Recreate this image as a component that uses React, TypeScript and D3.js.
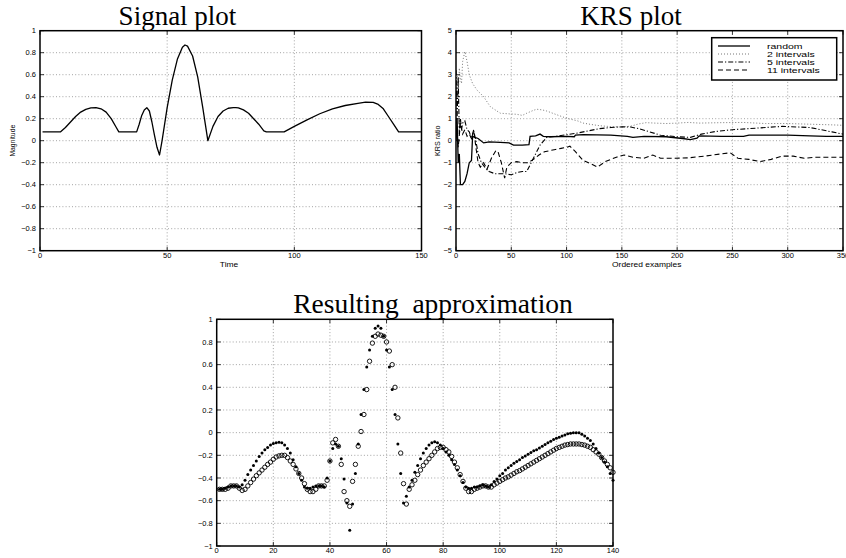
import React from 'react';
import * as d3 from 'd3';

// ---------------- Signal plot data ----------------
const signalT = [1, 8, 10, 12, 14, 16, 18, 20, 22, 24, 26, 28, 30, 31, 38, 39, 40, 41, 42, 43, 44, 45, 46, 47, 48, 50, 52, 54, 56, 57, 58, 60, 62, 64, 65, 66, 68, 70, 72, 74, 76, 77, 78, 80, 82, 84, 86, 88, 89, 96, 100, 105, 110, 115, 120, 125, 128, 131, 133, 135, 137, 139, 141, 150];
const signalV = [0.08, 0.08, 0.12, 0.17, 0.22, 0.26, 0.285, 0.298, 0.3, 0.29, 0.26, 0.2, 0.12, 0.08, 0.08, 0.15, 0.23, 0.28, 0.3, 0.27, 0.17, 0.05, -0.06, -0.13, 0.0, 0.3, 0.55, 0.74, 0.85, 0.87, 0.86, 0.77, 0.58, 0.3, 0.15, 0.0, 0.13, 0.22, 0.27, 0.295, 0.3, 0.3, 0.298, 0.28, 0.25, 0.2, 0.15, 0.09, 0.08, 0.08, 0.13, 0.19, 0.245, 0.29, 0.32, 0.34, 0.35, 0.348, 0.33, 0.29, 0.22, 0.15, 0.08, 0.08];

// ---------------- KRS plot data ----------------
const krsRandomX = [0, 1, 2, 3, 4, 6, 8, 10, 12, 14, 15, 17, 20, 25, 30, 40, 48, 52, 60, 66, 67, 72, 76, 79, 85, 100, 107, 108, 115, 140, 155, 160, 170, 190, 205, 212, 218, 220, 240, 260, 265, 300, 320, 335, 350];
const krsRandomY = [0, 1.0, -1.0, -0.6, -2.0, -2.0, -1.85, -1.5, -1.0, -0.9, 0.2, 0.15, 0.1, -0.1, -0.05, -0.08, -0.1, -0.2, -0.2, -0.18, 0.2, 0.22, 0.3, 0.2, 0.18, 0.2, 0.18, 0.25, 0.28, 0.25, 0.2, 0.15, 0.2, 0.18, 0.1, 0.05, 0.12, 0.22, 0.2, 0.2, 0.25, 0.25, 0.22, 0.2, 0.2];

const krs2X = [0, 1, 2, 3, 4, 5, 6, 8, 10, 12, 15, 19, 25, 31, 40, 48, 55, 60, 64, 70, 73, 78, 82, 90, 100, 110, 115, 122, 130, 140, 150, 158, 165, 172, 180, 190, 200, 210, 220, 240, 260, 280, 300, 320, 340, 350];
const krs2Y = [2.5, 3.0, 2.0, 3.3, 2.8, 2.6, 3.6, 4.05, 3.6, 3.0, 2.6, 2.3, 2.0, 1.55, 1.25, 1.22, 1.2, 1.15, 1.25, 1.38, 1.43, 1.4, 1.35, 1.2, 1.02, 0.9, 0.8, 0.74, 0.68, 0.64, 0.62, 0.66, 0.76, 0.82, 0.8, 0.78, 0.8, 0.83, 0.8, 0.82, 0.83, 0.78, 0.78, 0.75, 0.72, 0.7];

const krs5X = [0, 1, 2, 3, 4, 5, 6, 8, 10, 12, 14, 16, 18, 20, 23, 26, 30, 35, 40, 44, 50, 55, 60, 64, 70, 76, 82, 90, 100, 110, 120, 130, 140, 150, 158, 165, 172, 185, 200, 212, 222, 235, 250, 265, 280, 295, 310, 320, 330, 340, 350];
const krs5Y = [3.2, 1.0, 2.9, 0.3, 1.0, 0.5, 0.8, 0.9, 0.5, 0.4, 0.1, 0.45, 0.0, -0.6, -1.0, -1.2, -1.4, -1.5, -1.5, -1.5, -1.55, -1.45, -1.4, -1.4, -0.8, -0.2, 0.15, 0.2, 0.27, 0.35, 0.45, 0.55, 0.6, 0.63, 0.62, 0.55, 0.45, 0.25, 0.18, 0.15, 0.3, 0.42, 0.5, 0.55, 0.6, 0.65, 0.62, 0.6, 0.5, 0.4, 0.3];

const krs11X = [0, 2, 4, 6, 8, 10, 12, 14, 16, 18, 20, 22, 25, 28, 32, 36, 38, 41, 44, 46, 50, 55, 60, 65, 70, 75, 80, 85, 90, 95, 100, 103, 108, 115, 122, 128, 135, 145, 152, 160, 170, 178, 185, 195, 210, 225, 240, 248, 255, 265, 275, 285, 295, 305, 315, 325, 335, 350];
const krs11Y = [1.0, -0.3, 0.8, 0.3, 0.5, 0.2, 0.3, 0.1, 0.5, -0.3, -1.0, -1.2, -1.0, -1.3, -0.8, -0.45, -0.5, -1.0, -1.7, -1.2, -1.0, -0.95, -1.0, -1.0, -0.85, -0.65, -0.5, -0.45, -0.4, -0.35, -0.3, -0.25, -0.5, -0.9, -1.05, -1.2, -0.95, -0.75, -0.65, -0.75, -0.8, -0.65, -0.8, -0.8, -0.78, -0.7, -0.6, -0.55, -0.8, -0.85, -0.95, -0.85, -0.7, -0.7, -0.8, -0.75, -0.75, -0.75];

const legendLabels = ['random', '2 intervals', '5 intervals', '11 intervals'];

// ---------------- Resulting approximation data (x = 1..140) ----------------
const approxFilled = [
  -0.50, -0.50, -0.49, -0.48, -0.47, -0.47, -0.47, -0.48, -0.46, -0.42,
  -0.37, -0.33, -0.29, -0.25, -0.21, -0.18, -0.15, -0.13, -0.11, -0.095,
  -0.09, -0.085, -0.09, -0.11, -0.14, -0.18, -0.24, -0.30, -0.36, -0.42,
  -0.48, -0.49, -0.49, -0.48, -0.47, -0.47, -0.47, -0.48, -0.40, -0.25,
  -0.14, -0.10, -0.12, -0.23, -0.41, -0.62, -0.86, -0.63, -0.36, -0.10,
  0.16, 0.38, 0.58, 0.73, 0.85, 0.92, 0.94, 0.92, 0.85, 0.73,
  0.58, 0.38, 0.16, -0.10, -0.36, -0.62, -0.56, -0.48, -0.42, -0.35,
  -0.29, -0.23, -0.18, -0.14, -0.11, -0.09, -0.08, -0.09, -0.11, -0.14,
  -0.17, -0.20, -0.24, -0.28, -0.33, -0.38, -0.44, -0.48, -0.49, -0.49,
  -0.48, -0.48, -0.47, -0.46, -0.47, -0.48, -0.46, -0.43, -0.41, -0.38,
  -0.36, -0.33, -0.31, -0.29, -0.27, -0.255, -0.24, -0.22, -0.205, -0.19,
  -0.175, -0.16, -0.15, -0.135, -0.12, -0.105, -0.09, -0.075, -0.06, -0.05,
  -0.04, -0.03, -0.02, -0.01, -0.005, 0.0, 0.0, 0.0, -0.015, -0.03,
  -0.05, -0.07, -0.10, -0.14, -0.18, -0.22, -0.26, -0.30, -0.36, -0.42,
];
const approxCircles = [
  -0.50, -0.50, -0.50, -0.49, -0.47, -0.47, -0.47, -0.49, -0.51, -0.50,
  -0.47, -0.44, -0.41, -0.38, -0.355, -0.33, -0.305, -0.28, -0.26, -0.235,
  -0.215, -0.205, -0.20, -0.20, -0.22, -0.25, -0.28, -0.32, -0.36, -0.40,
  -0.45, -0.50, -0.52, -0.52, -0.50, -0.47, -0.47, -0.47, -0.42, -0.25,
  -0.09, -0.06, -0.12, -0.28, -0.52, -0.60, -0.65, -0.43, -0.28, -0.12,
  0.01, 0.16, 0.38, 0.63, 0.79, 0.85, 0.87, 0.86, 0.85, 0.80,
  0.72, 0.60, 0.40, 0.13, -0.18, -0.45, -0.63, -0.50, -0.46, -0.42,
  -0.37, -0.33, -0.29, -0.26, -0.23, -0.20, -0.17, -0.14, -0.13, -0.13,
  -0.15, -0.17, -0.21, -0.26, -0.31, -0.37, -0.43, -0.49, -0.52, -0.52,
  -0.50, -0.49, -0.48, -0.47, -0.47, -0.48, -0.48, -0.46, -0.445, -0.43,
  -0.415, -0.40, -0.39, -0.375, -0.36, -0.345, -0.335, -0.32, -0.305, -0.29,
  -0.275, -0.26, -0.245, -0.23, -0.215, -0.20, -0.185, -0.17, -0.155, -0.14,
  -0.13, -0.12, -0.11, -0.105, -0.10, -0.10, -0.10, -0.10, -0.105, -0.11,
  -0.12, -0.13, -0.15, -0.17, -0.19, -0.22, -0.25, -0.28, -0.31, -0.35,
];
const approxX = d3.range(1, approxFilled.length + 1);

// ---------------- ticks ----------------
const signalXTicks = [0, 50, 100, 150];
const unitYTicks = [-1, -0.8, -0.6, -0.4, -0.2, 0, 0.2, 0.4, 0.6, 0.8, 1];
const krsXTicks = [0, 50, 100, 150, 200, 250, 300, 350];
const krsYTicks = [-5, -4, -3, -2, -1, 0, 1, 2, 3, 4, 5];
const approxXTicks = [0, 20, 40, 60, 80, 100, 120, 140];

const SANS = 'Liberation Sans, Arial, Helvetica, sans-serif';
const SERIF = 'Liberation Serif, Times New Roman, serif';
const fmt = d3.format('~g');

type Scale = d3.ScaleLinear<number, number>;

function Axes({ x, y, xTicks, yTicks }: { x: Scale; y: Scale; xTicks: number[]; yTicks: number[] }) {
  const [l, r] = x.range();
  const [b, t] = y.range();
  const tl = 4;
  return (
    <g>
      {xTicks.filter((v) => x(v) > l + 0.5 && x(v) < r - 0.5).map((v) => (
        <line key={'gx' + v} x1={x(v)} x2={x(v)} y1={t} y2={b} stroke="#8c8c8c" strokeWidth={0.8} strokeDasharray="1,2.2" />
      ))}
      {yTicks.filter((v) => y(v) < b - 0.5 && y(v) > t + 0.5).map((v) => (
        <line key={'gy' + v} x1={l} x2={r} y1={y(v)} y2={y(v)} stroke="#8c8c8c" strokeWidth={0.8} strokeDasharray="1,2.2" />
      ))}
      {xTicks.map((v) => (
        <g key={'tx' + v}>
          <line x1={x(v)} x2={x(v)} y1={b} y2={b - tl} stroke="#000" strokeWidth={0.8} />
          <line x1={x(v)} x2={x(v)} y1={t} y2={t + tl} stroke="#000" strokeWidth={0.8} />
          <text x={x(v)} y={b + 7.2} textAnchor="middle" fontSize={7.5} fontFamily={SANS} fill="#000">{fmt(v)}</text>
        </g>
      ))}
      {yTicks.map((v) => (
        <g key={'ty' + v}>
          <line x1={l} x2={l + tl} y1={y(v)} y2={y(v)} stroke="#000" strokeWidth={0.8} />
          <line x1={r} x2={r - tl} y1={y(v)} y2={y(v)} stroke="#000" strokeWidth={0.8} />
          <text x={l - 4} y={y(v)} dy="0.35em" textAnchor="end" fontSize={7.5} fontFamily={SANS} fill="#000">{fmt(v)}</text>
        </g>
      ))}
      <rect x={l} y={t} width={r - l} height={b - t} fill="none" stroke="#000" strokeWidth={1.5} />
    </g>
  );
}

function WideText({ x, y, children, size, sx, rotate }: { x: number; y: number; children: string; size: number; sx: number; rotate?: boolean }) {
  const tr = rotate ? `translate(${x},${y}) rotate(-90) scale(${sx},1)` : `translate(${x},${y}) scale(${sx},1)`;
  return (
    <text transform={tr} textAnchor="middle" fontSize={size} fontFamily={SANS} fill="#000">{children}</text>
  );
}

export default function App() {
  // Signal plot
  const sx = d3.scaleLinear().domain([0, 150]).range([40, 421.5]);
  const sy = d3.scaleLinear().domain([-1, 1]).range([250.7, 30.7]);
  const signalLine = d3.line<number>().x((_, i) => sx(signalT[i])).y((d) => sy(d));

  // KRS plot
  const kx = d3.scaleLinear().domain([0, 350]).range([456, 843]);
  const ky = d3.scaleLinear().domain([-5, 5]).range([250.7, 30.7]);
  const kLine = (xs: number[]) => d3.line<number>().x((_, i) => kx(xs[i])).y((d) => ky(d));

  // Approximation plot
  const ax = d3.scaleLinear().domain([0, 140]).range([216.7, 613]);
  const ay = d3.scaleLinear().domain([-1, 1]).range([546, 319.3]);

  const series = [
    { xs: krsRandomX, ys: krsRandomY, stroke: '#000', dash: undefined as string | undefined, w: 1.3 },
    { xs: krs2X, ys: krs2Y, stroke: '#777', dash: '1,2', w: 1 },
    { xs: krs5X, ys: krs5Y, stroke: '#000', dash: '5,2,1.2,2', w: 1.1 },
    { xs: krs11X, ys: krs11Y, stroke: '#000', dash: '5,3', w: 1.1 },
  ];

  const legX = 711.7, legY = 37.7, legW = 125, legH = 42.3;
  const rowY = [46, 54, 62, 70];

  return (
    <svg width={846} height={558} style={{ position: 'absolute', left: 0, top: 0, background: '#fff' }}>
      <rect x={0} y={0} width={846} height={558} fill="#fff" />
      <defs>
        <clipPath id="krsClip">
          <rect x={456} y={30.7} width={387} height={220} />
        </clipPath>
      </defs>

      {/* Signal plot */}
      <text x={177.5} y={25} textAnchor="middle" fontSize={27} fontFamily={SERIF} fill="#000">Signal plot</text>
      <Axes x={sx} y={sy} xTicks={signalXTicks} yTicks={unitYTicks} />
      <path d={signalLine(signalV) || ''} fill="none" stroke="#000" strokeWidth={1.3} strokeLinejoin="round" />
      <WideText x={229} y={266.5} size={6.5} sx={1.3}>Time</WideText>
      <WideText x={15} y={140.7} size={6.5} sx={1.05} rotate>Magnitude</WideText>

      {/* KRS plot */}
      <text x={631} y={25} textAnchor="middle" fontSize={27} fontFamily={SERIF} fill="#000">KRS plot</text>
      <Axes x={kx} y={ky} xTicks={krsXTicks} yTicks={krsYTicks} />
      <g clipPath="url(#krsClip)">
        {series.map((s, i) => (
          <path key={i} d={kLine(s.xs)(s.ys) || ''} fill="none" stroke={s.stroke} strokeWidth={s.w} strokeDasharray={s.dash} />
        ))}
      </g>
      <WideText x={646.7} y={266.5} size={6.5} sx={1.3}>Ordered examples</WideText>
      <WideText x={440} y={140.7} size={6.5} sx={1.1} rotate>KRS ratio</WideText>
      <rect x={legX} y={legY} width={legW} height={legH} fill="#fff" stroke="#000" strokeWidth={1.5} />
      {legendLabels.map((lab, i) => (
        <g key={lab}>
          <line x1={718} x2={750} y1={rowY[i]} y2={rowY[i]} stroke={series[i].stroke} strokeWidth={series[i].w} strokeDasharray={series[i].dash} />
          <text transform={`translate(767,${rowY[i] + 2.5}) scale(1.5,1)`} fontSize={7} fontFamily={SANS} fill="#000">{lab}</text>
        </g>
      ))}

      {/* Resulting approximation */}
      <text x={433} y={313} textAnchor="middle" fontSize={27.5} fontFamily={SERIF} fill="#000" xmlSpace="preserve">Resulting  approximation</text>
      <Axes x={ax} y={ay} xTicks={approxXTicks} yTicks={unitYTicks} />
      {approxX.map((u, i) => (
        <circle key={'c' + u} cx={ax(u)} cy={ay(approxCircles[i])} r={2.2} fill="none" stroke="#000" strokeWidth={0.9} />
      ))}
      {approxX.map((u, i) => (
        <circle key={'f' + u} cx={ax(u)} cy={ay(approxFilled[i])} r={1.5} fill="#000" />
      ))}
    </svg>
  );
}
